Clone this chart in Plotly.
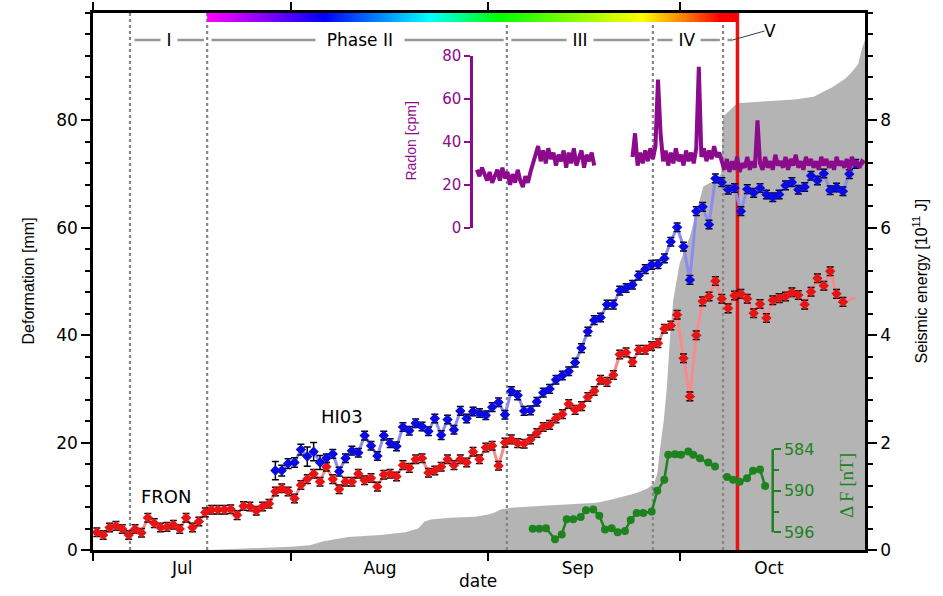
import pandas as pd
import plotly.graph_objects as go

BASE = pd.Timestamp("2010-07-01")


def to_date(d):
    return (BASE + pd.Timedelta(days=float(d))).strftime("%Y-%m-%d %H:%M:%S")


def to_dates(days):
    return [None if d is None else to_date(d) for d in days]


# ---------------- data ----------------
# Deformation, daily values (mm)
fron_start_day = 0.6
fron_mm = [3.3, 2.8, 4.2, 4.5, 3.9, 2.8, 3.9, 3.2, 6.0, 5.0,
           4.2, 4.3, 4.7, 3.9, 6.0, 4.2, 5.3, 7.0, 7.5, 7.5,
           7.5, 7.6, 6.5, 8.2, 8.1, 7.3, 8.1, 8.6, 10.9, 11.5,
           10.9, 9.6, 12.1, 13.2, 14.2, 12.7, 15.5, 13.2, 11.3, 12.7,
           12.7, 14.2, 13.0, 13.4, 11.8, 14.0, 14.2, 13.7, 15.8, 15.3,
           16.9, 17.1, 14.4, 14.8, 15.5, 16.9, 15.8, 16.9, 16.3, 18.3,
           16.9, 19.1, 19.4, 15.7, 20.0, 20.6, 19.9, 19.8, 20.6, 21.8,
           22.9, 23.3, 24.5, 25.3, 27.2, 26.1, 26.8, 28.5, 29.6, 31.7,
           31.3, 32.6, 36.4, 36.8, 35.0, 37.3, 37.3, 38.0, 38.5, 41.2,
           41.8, 43.8, 35.7, 28.6, 40.0, 46.3, 47.2, 50.1, 46.8, 45.0,
           47.4, 47.7, 46.8, 44.1, 45.8, 43.2, 46.5, 46.9, 47.2, 48.0,
           47.5, 45.7, 48.1, 50.6, 49.2, 51.9, 47.7, 46.2, 46.6, 47.0]
fron_marked = 118          # last two values drawn as line only
fron_err = [0.8] * len(fron_mm)

hi03_start_day = 28.6
hi03_mm = [14.8, 14.8, 16.1, 16.3, 18.7, 17.4, 18.3, 16.3, 17.1, 17.9,
           14.6, 17.1, 18.5, 18.1, 21.3, 19.4, 17.5, 21.3, 19.9, 19.3,
           22.9, 22.2, 23.6, 23.0, 22.1, 24.5, 21.4, 24.3, 22.4, 25.9,
           24.5, 25.8, 25.5, 25.1, 26.6, 27.5, 25.2, 29.6, 28.8, 25.9,
           26.0, 27.6, 29.3, 30.0, 31.7, 32.5, 33.3, 34.9, 37.6, 40.7,
           42.8, 43.3, 45.7, 45.7, 48.3, 48.8, 49.4, 51.1, 52.3, 53.1,
           53.2, 54.3, 57.4, 60.1, 56.5, 50.3, 63.1, 63.9, 60.6, 69.2,
           68.5, 67.1, 67.4, 63.1, 67.2, 66.5, 67.4, 66.2, 65.7, 66.2,
           67.9, 68.5, 67.1, 67.6, 69.7, 68.8, 70.1, 67.0, 67.5, 66.8,
           70.0, 71.9]
hi03_err = [1.7, 1.0, 0.9, 0.9, 1.0, 1.8, 1.7, 1.3] + [0.8] * (len(hi03_mm) - 8)

# Cumulative seismic energy (1e11 J)
seis_day = [17.9, 20, 25, 30, 31, 34, 35, 36, 40, 45, 49, 50, 51, 52, 53,
            56, 60, 62, 63, 64, 66, 70, 76, 79, 81, 83, 85, 86, 87, 88,
            88.5, 88.9, 89.5, 90.0, 90.5, 91.0, 92.0, 93.6, 94.9, 95.7,
            97.2, 98.5, 98.8, 99.5, 100.3, 101.0, 105, 110, 113, 115,
            116, 117, 118, 119, 120, 120.5, 121.06]
seis_val = [0.0, 0.01, 0.03, 0.05, 0.06, 0.09, 0.13, 0.16, 0.24, 0.28,
            0.33, 0.37, 0.40, 0.53, 0.57, 0.60, 0.62, 0.66, 0.70, 0.76,
            0.79, 0.82, 0.86, 0.88, 0.93, 0.99, 1.05, 1.10, 1.15, 1.25,
            1.43, 1.86, 2.4, 3.04, 4.0, 4.66, 5.34, 5.84, 6.39, 6.77,
            6.86, 7.0, 8.07, 8.15, 8.25, 8.32, 8.35, 8.39, 8.44, 8.55,
            8.62, 8.7, 8.78, 8.9, 9.05, 9.3, 9.5]

# Radon (cpm), sampled every 0.4 day from day 60.2
radon_start_day = 60.2
radon_step_day = 0.4
radon_cpm = [27, 24, 28, 25, 22, 26, 21, 24, 27, 22,
             28, 23, 26, 20, 25, 21, 27, 22, 19, 24,
             21, 26, 30, 34, 38, 31, 36, 30, 37, 32,
             35, 29, 34, 31, 36, 28, 35, 30, 37, 29,
             33, 36, 28, 34, 31, 35, 29,
             None, None, None, None, None, None, None,
             None, None, None, None, None, None, None,
             33, 44, 29, 35, 30, 36, 31, 37, 32, 38,
             69, 44, 31, 36, 29, 35, 30, 37, 31, 34,
             29, 36, 31, 35, 30, 37, 75, 33, 37, 31,
             36, 32, 38, 33, 35, 30, 27, 32, 26, 31,
             27, 33, 26, 30, 28, 33, 27, 31, 28, 50,
             30, 27, 33, 28, 31, 27, 34, 29, 31, 28,
             33, 27, 32, 29, 34, 28, 31, 27, 33, 29,
             32, 28, 31, 27, 33, 29, 32, 28, 31, 27,
             33, 29, 31, 28, 32, 27, 33, 29, 31, 28,
             31, 30]

# Magnetic field change dF (nT)
dF_day = [68.95, 69.99, 71.04, 72.45, 73.50, 74.28, 75.32, 76.48, 77.31, 78.45,
          79.39, 80.29, 81.34, 82.28, 83.42, 84.32, 85.26, 86.29, 87.61, 88.49,
          89.59, 90.21, 91.26, 92.2, 93.35, 94.13, 95.18, 96.49, 97.54, None,
          99.43, 100.37, 101.41, 102.56, 103.5, 104.6, 105.4]
dF_nT = [595.5, 595.5, 595.4, 597.0, 596.3, 594.1, 594.1, 593.8, 592.8, 592.7,
         593.6, 595.6, 595.4, 596.0, 595.8, 594.2, 593.2, 593.2, 593.0, 590.0,
         588.4, 584.8, 584.7, 584.8, 584.3, 584.8, 585.3, 585.9, 586.5, None,
         588.0, 588.4, 588.7, 588.2, 587.1, 586.9, 589.3]

# Phases
phase_bounds = [5.8, 17.9, 64.9, 87.8, 98.8]
failure_day = 101.06
phase_names = ["I", "Phase II", "III", "IV", "V"]
phase_label_day = [11.9, 41.9, 76.4, 93.1, 106.2]

x_end_day = 121.06
month_labels = ["Jul", "Aug", "Sep", "Oct"]
month_label_dates = ["2010-07-15", "2010-08-15", "2010-09-15", "2010-10-15"]

# ---------------- figure ----------------
RED = "rgb(230,20,20)"
BLUE = "rgb(10,10,225)"
PURPLE = "rgb(140,10,140)"
GREEN = "rgb(30,130,30)"
GRAY = "rgb(180,180,180)"
FONT = "DejaVu Sans"
TFONT = "Liberation Sans"

fig = go.Figure()

# seismic energy (main y, right side)
fig.add_trace(go.Scatter(x=to_dates(seis_day), y=seis_val, mode="lines",
                         line=dict(width=0, color=GRAY), fill="tozeroy",
                         fillcolor=GRAY, yaxis="y", hoverinfo="skip"))

# phase boundaries (dotted)
bx, by = [], []
for d in phase_bounds:
    bx += [to_date(d), to_date(d), None]
    by += [0, 10, None]
fig.add_trace(go.Scatter(x=bx, y=by, mode="lines",
                         line=dict(color="rgb(135,135,135)", width=2.2, dash="dot"),
                         yaxis="y", hoverinfo="skip"))
# failure line
fig.add_trace(go.Scatter(x=[to_date(failure_day)] * 2, y=[0, 10], mode="lines",
                         line=dict(color=RED, width=3.5), yaxis="y", hoverinfo="skip"))

# deformation (y2, left)
fron_days = [fron_start_day + i for i in range(len(fron_mm))]
hi03_days = [hi03_start_day + i for i in range(len(hi03_mm))]
fig.add_trace(go.Scatter(x=to_dates(fron_days), y=fron_mm, mode="lines",
                         line=dict(color="rgb(245,140,140)", width=3), yaxis="y2"))
fig.add_trace(go.Scatter(x=to_dates(fron_days[:fron_marked]), y=fron_mm[:fron_marked],
                         mode="markers",
                         marker=dict(symbol="diamond", size=8, color=RED),
                         error_y=dict(type="data", array=fron_err[:fron_marked],
                                      color="black", thickness=1.5, width=3.5),
                         yaxis="y2"))
fig.add_trace(go.Scatter(x=to_dates(hi03_days), y=hi03_mm, mode="lines",
                         line=dict(color="rgb(140,140,240)", width=3), yaxis="y2"))
fig.add_trace(go.Scatter(x=to_dates(hi03_days), y=hi03_mm, mode="markers",
                         marker=dict(symbol="diamond", size=8, color=BLUE),
                         error_y=dict(type="data", array=hi03_err,
                                      color="black", thickness=1.5, width=3.5),
                         yaxis="y2"))

# radon (inset axis y3)
radon_days = [radon_start_day + radon_step_day * i for i in range(len(radon_cpm))]
fig.add_trace(go.Scatter(x=to_dates(radon_days), y=radon_cpm, mode="lines",
                         line=dict(color=PURPLE, width=4), yaxis="y3",
                         connectgaps=False, hoverinfo="skip"))

# rainbow bar (y4)
n_col = 300
rb_days = [phase_bounds[1] + (failure_day - phase_bounds[1]) * (i + 0.5) / n_col
           for i in range(n_col)]
fig.add_trace(go.Heatmap(x=to_dates(rb_days), y=[0], z=[[i for i in range(n_col)]],
                         colorscale=[[0, "#ff00ff"], [0.1, "#9000ff"], [0.22, "#0000ff"],
                                     [0.42, "#00ffff"], [0.55, "#00ff00"],
                                     [0.82, "#ffff00"], [0.9, "#ff8000"],
                                     [0.97, "#ff0000"], [1, "#ff0000"]],
                         showscale=False, yaxis="y4", hoverinfo="skip"))

# dF (inset axis y5)
fig.add_trace(go.Scatter(x=to_dates(dF_day), y=dF_nT, mode="lines+markers",
                         line=dict(color=GREEN, width=2.5),
                         marker=dict(size=8, color=GREEN),
                         yaxis="y5", connectgaps=False, hoverinfo="skip"))

x_range = [to_date(0), to_date(x_end_day)]

axis_common = dict(showgrid=False, zeroline=False, showline=True, linecolor="black",
                   linewidth=2.5, ticks="outside", tickwidth=2,
                   automargin=False, tickfont=dict(family=FONT, size=17, color="black"))

fig.update_layout(
    width=943, height=596,
    margin=dict(l=93, r=78, t=13, b=46),
    paper_bgcolor="white", plot_bgcolor="rgba(0,0,0,0)",
    showlegend=False, hovermode=False,
    font=dict(family=FONT, size=17, color="black"),
    xaxis=dict(type="date", range=x_range, anchor="y",
               tickvals=month_label_dates, ticktext=month_labels,
               ticklen=1, mirror="ticks", tickcolor="rgba(0,0,0,0)",
               minor=dict(ticks="outside", ticklen=8, tickwidth=2, tickcolor="black",
                          dtick="M1", tick0="2010-07-01"),
               **axis_common),
    yaxis=dict(side="right", range=[0, 10], tickvals=[0, 2, 4, 6, 8], ticklen=9,
               tickcolor="black",
               minor=dict(dtick=0.4, tick0=0, ticks="outside", ticklen=5, tickwidth=1.5,
                          tickcolor="black"),
               **axis_common),
    yaxis2=dict(side="left", overlaying="y", range=[0, 100], tickvals=[0, 20, 40, 60, 80],
                ticklen=9, tickcolor="black",
                minor=dict(dtick=4, tick0=0, ticks="outside", ticklen=5, tickwidth=1.5,
                           tickcolor="black"),
                **axis_common),
    yaxis3=dict(domain=[0.600, 0.920], anchor="free", position=(471 - 93) / 772,
                side="left", range=[0, 80], tickvals=[0, 20, 40, 60, 80],
                showgrid=False, zeroline=False, showline=True, linecolor=PURPLE,
                linewidth=2.5, ticks="outside", ticklen=6, tickwidth=2, tickcolor=PURPLE,
                automargin=False, tickfont=dict(family=FONT, size=15, color=PURPLE)),
    yaxis4=dict(domain=[(550 - 22) / 537, 1.0], anchor="x", range=[-0.5, 0.5],
                visible=False, fixedrange=True),
    yaxis5=dict(domain=[0.0007, 0.2197], anchor="free", position=(772.7 - 93) / 772,
                side="right", range=[598.5, 581.5], tickvals=[584, 590, 596],
                showgrid=False, zeroline=False, showline=False,
                ticks="outside", ticklen=7, tickwidth=2, tickcolor=GREEN,
                minor=dict(tickvals=[587, 593], ticks="outside", ticklen=5,
                           tickwidth=1.5, tickcolor=GREEN),
                automargin=False, tickfont=dict(family=FONT, size=16, color=GREEN)),
)

shapes = []
# dF axis line (only spans 584..596)
shapes.append(dict(type="line", xref="paper", yref="y5",
                   x0=(772.7 - 93) / 772, x1=(772.7 - 93) / 772, y0=584, y1=596,
                   line=dict(color=GREEN, width=2.5)))

# phase bars
phase_y = (550 - 40) / 537
edges = phase_bounds + [failure_day]
for i in range(len(phase_names)):
    x0 = edges[i] + 0.7
    x1 = edges[i + 1] - 0.5 if i < len(phase_names) - 1 else edges[i] + 1.5
    shapes.append(dict(type="line", xref="x", yref="paper", x0=to_date(x0), x1=to_date(x1),
                       y0=phase_y, y1=phase_y,
                       line=dict(color="rgb(150,150,150)", width=2.5)))
# leader line to "V"
v_y = (550 - 31) / 537
shapes.append(dict(type="line", xref="x", yref="paper",
                   x0=to_date(edges[4] + 1.5), x1=to_date(phase_label_day[4] - 0.9),
                   y0=phase_y, y1=v_y, line=dict(color="rgb(60,60,60)", width=1)))
fig.update_layout(shapes=shapes)


def txt(x, y, text, size, color="black", family=FONT, angle=0, xref="paper", yref="paper",
        bg=None):
    d = dict(x=x, y=y, xref=xref, yref=yref, text=text, showarrow=False, textangle=angle,
             xanchor="center", yanchor="middle",
             font=dict(family=family, size=size, color=color))
    if bg:
        d.update(bgcolor=bg, borderpad=0)
    return d


ann = []
for i, name in enumerate(phase_names[:4]):
    pad = "&nbsp;&nbsp;" if i == 1 else "&nbsp;"
    ann.append(txt(to_date(phase_label_day[i]), phase_y, pad + name + pad, 17,
                   xref="x", bg="white"))
ann.append(txt(to_date(phase_label_day[4]), v_y, "V", 17, xref="x"))
# series labels
ann.append(txt(to_date(11.45), 9.9, "FRON", 18, xref="x", yref="y2"))
ann.append(txt(to_date(39.0), 24.8, "HI03", 18, xref="x", yref="y2"))
# axis titles
ann.append(txt((28 - 93) / 772, 0.5, "Deformation [mm]", 16, family=TFONT, angle=-90))
ann.append(txt((920 - 93) / 772, 0.5, "Seismic energy [10<sup>11</sup> J]", 16,
               family=TFONT, angle=-90))
ann.append(txt((478 - 93) / 772, (550 - 581) / 537, "date", 17))
ann.append(txt((410 - 93) / 772, (550 - 141.5) / 537, "Radon [cpm]", 14, color=PURPLE,
               family=TFONT, angle=-90))
ann.append(txt((846 - 93) / 772, (550 - 486) / 537, "\u0394 F [nT]", 19, color=GREEN,
               family="Liberation Serif", angle=-90))
fig.update_layout(annotations=ann)

fig.write_html("out.html")
